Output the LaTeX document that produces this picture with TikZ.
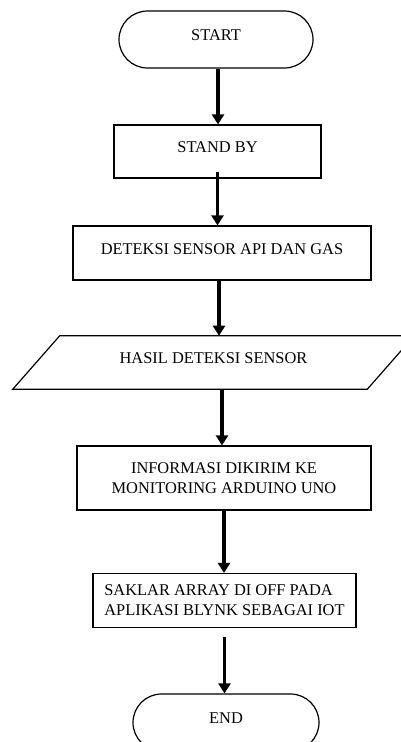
\documentclass[tikz,border=0pt]{standalone}
\usepackage{fontspec}
\setmainfont{Liberation Serif}
\usetikzlibrary{arrows.meta,shapes.misc}
\begin{document}
\begin{tikzpicture}[x=0.75pt,y=-0.75pt,
  every node/.style={font=\fontsize{12.3}{15}\selectfont, inner sep=0pt},
  box/.style={draw=black, line width=0.9pt, rectangle},
  term/.style={draw=black, line width=0.9pt, rounded rectangle},
  oneline/.style={text height=8.1pt, text depth=6pt},
  arr/.style={line width=2.4pt, -{Triangle[width=9pt,length=7.5pt]}}
]
\useasboundingbox (0,0) rectangle (400,742);
\node[term, oneline, minimum width=194*0.75pt, minimum height=57*0.75pt] (start) at (216,39.5) {START};
\node[box, oneline, minimum width=207*0.75pt, minimum height=53*0.75pt] (standby) at (217.5,151.5) {STAND BY};
\node[box, oneline, minimum width=298*0.75pt, minimum height=54*0.75pt] (deteksi) at (222,253) {DETEKSI SENSOR API DAN GAS};
\node[oneline, minimum width=401*0.75pt, minimum height=53*0.75pt] (hasil) at (213.5,362.5) {HASIL DETEKSI SENSOR};
\draw[line width=0.9pt, line join=miter]
  ([xshift=47*0.75pt]hasil.north west) -- (hasil.north east)
  -- ([xshift=-47*0.75pt]hasil.south east) -- (hasil.south west) -- cycle;
\node[box, align=center, minimum width=294*0.75pt, minimum height=64*0.75pt] (info) at (224,478) {INFORMASI DIKIRIM KE\\MONITORING ARDUINO UNO};
\node[box, align=left, minimum width=263*0.75pt, minimum height=54*0.75pt] (saklar) at (224.5,600.5) {SAKLAR ARRAY DI OFF PADA\\APLIKASI BLYNK SEBAGAI IOT};
\node[term, oneline, minimum width=186*0.75pt, minimum height=57*0.75pt] (end) at (226,722.5) {END};

\draw[arr] ([xshift=1.5pt]start.south) -- ([xshift=1.5pt]start.south |- standby.north);
\draw[arr] ([yshift=5.25pt]standby.south) -- (standby.south |- deteksi.north);
\draw[arr] ([xshift=-2.25pt]deteksi.south) -- ([xshift=-2.25pt]deteksi.south |- hasil.north);
\draw[arr] ([xshift=-1.5pt]hasil.south -| info.north) -- ([xshift=-1.5pt]info.north);
\draw[arr] (info.south) -- (info.south |- saklar.north);
\draw[arr] ([yshift=-6.75pt]saklar.south) -- (saklar.south |- end.north);
\end{tikzpicture}
\end{document}
